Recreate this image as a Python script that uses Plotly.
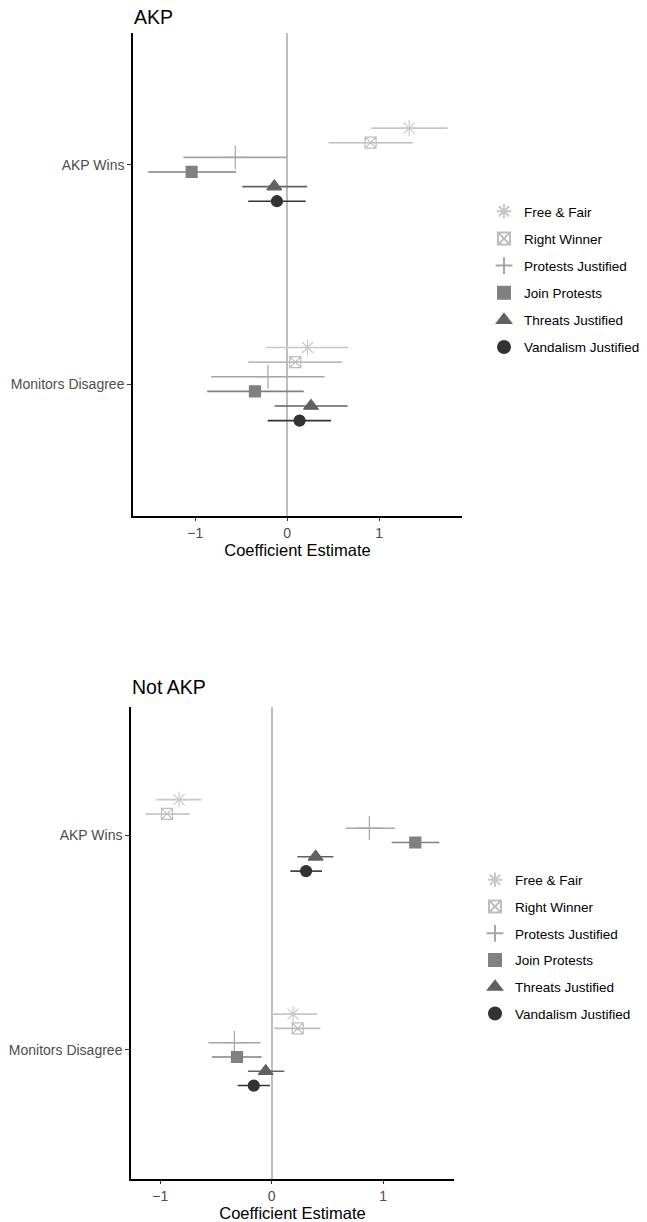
import plotly.graph_objects as go

series = ["Free & Fair", "Right Winner", "Protests Justified", "Join Protests",
          "Threats Justified", "Vandalism Justified"]
colors = ["#C8C8C8", "#BDBDBD", "#A6A6A6", "#808080", "#616161", "#333333"]
symbols = ["asterisk-open", "square-x-open", "cross-thin-open", "square",
           "triangle-up", "circle"]
sizes = [13, 11, 17, 11, 13, 11]

categories = ["Monitors Disagree", "AKP Wins"]

# AKP panel: [Monitors Disagree, AKP Wins]
akp_est = {
    "Free & Fair":         [0.221, 1.326],
    "Right Winner":        [0.087, 0.906],
    "Protests Justified":  [-0.210, -0.565],
    "Join Protests":       [-0.351, -1.040],
    "Threats Justified":   [0.258, -0.141],
    "Vandalism Justified": [0.134, -0.112],
}
akp_lo = {
    "Free & Fair":         [-0.232, 0.913],
    "Right Winner":        [-0.424, 0.450],
    "Protests Justified":  [-0.829, -1.130],
    "Join Protests":       [-0.870, -1.510],
    "Threats Justified":   [-0.137, -0.489],
    "Vandalism Justified": [-0.213, -0.424],
}
akp_hi = {
    "Free & Fair":         [0.667, 1.743],
    "Right Winner":        [0.598, 1.363],
    "Protests Justified":  [0.406, -0.003],
    "Join Protests":       [0.180, -0.557],
    "Threats Justified":   [0.656, 0.217],
    "Vandalism Justified": [0.475, 0.200],
}

# Not AKP panel
not_est = {
    "Free & Fair":         [0.191, -0.831],
    "Right Winner":        [0.233, -0.939],
    "Protests Justified":  [-0.335, 0.876],
    "Join Protests":       [-0.311, 1.288],
    "Threats Justified":   [-0.054, 0.394],
    "Vandalism Justified": [-0.161, 0.308],
}
not_lo = {
    "Free & Fair":         [0.000, -1.035],
    "Right Winner":        [0.024, -1.134],
    "Protests Justified":  [-0.568, 0.663],
    "Join Protests":       [-0.535, 1.076],
    "Threats Justified":   [-0.212, 0.230],
    "Vandalism Justified": [-0.305, 0.167],
}
not_hi = {
    "Free & Fair":         [0.406, -0.631],
    "Right Winner":        [0.436, -0.736],
    "Protests Justified":  [-0.099, 1.106],
    "Join Protests":       [-0.090, 1.503],
    "Threats Justified":   [0.113, 0.553],
    "Vandalism Justified": [-0.015, 0.451],
}

panels = [
    ("AKP", akp_est, akp_lo, akp_hi, "x", "y", "legend"),
    ("Not AKP", not_est, not_lo, not_hi, "x2", "y2", "legend2"),
]

dodge = 0.4 / 6
fig = go.Figure()

for p, (title, est, lo, hi, xa, ya, leg) in enumerate(panels):
    for i, s in enumerate(series):
        off = (2.5 - i) * dodge
        ys = [k + 1 + off for k in range(len(categories))]
        e = est[s]
        fig.add_trace(go.Scatter(
            x=e, y=ys, mode="markers", name=s, xaxis=xa, yaxis=ya, legend=leg,
            legendgroup=f"p{p}_{i}",
            marker=dict(symbol=symbols[i], size=sizes[i], color=colors[i],
                        line=dict(color=colors[i], width=1.2)),
            error_x=dict(type="data", symmetric=False,
                         array=[h - v for h, v in zip(hi[s], e)],
                         arrayminus=[v - l for v, l in zip(e, lo[s])],
                         color=colors[i], thickness=1.6, width=0),
            showlegend=True,
        ))

W, H = 647, 1222
tickfont = dict(family="Liberation Sans", size=14, color="#4D4D4D")
axis_common = dict(showgrid=False, zeroline=True, zerolinecolor="#BEBEBE",
                   zerolinewidth=1.6, showline=True, linecolor="black",
                   linewidth=1.5, ticks="outside", ticklen=4, tickcolor="#333333",
                   tickfont=tickfont)
xtitle = dict(text="Coefficient Estimate",
              font=dict(size=16.5, family="Liberation Sans", color="black"), standoff=1)
legfont = dict(size=13.5, family="Liberation Sans", color="black")

fig.update_layout(
    width=W, height=H, margin=dict(l=0, r=0, t=0, b=0),
    plot_bgcolor="white", paper_bgcolor="white",
    font=dict(family="Liberation Sans", color="black"),
    xaxis=dict(domain=[133 / W, 462 / W], range=[-1.677, 1.90], anchor="y",
               tickvals=[-1, 0, 1], ticktext=["\u22121", "0", "1"],
               title=xtitle, **axis_common),
    yaxis=dict(domain=[1 - 515.7 / H, 1 - 33 / H], range=[0.4, 2.6], anchor="x",
               tickvals=[1, 2], ticktext=categories, **axis_common),
    xaxis2=dict(domain=[131 / W, 454 / W], range=[-1.262, 1.635], anchor="y2",
                tickvals=[-1, 0, 1], ticktext=["\u22121", "0", "1"],
                title=xtitle, **axis_common),
    yaxis2=dict(domain=[1 - 1178.5 / H, 1 - 706.7 / H], range=[0.4, 2.6], anchor="x2",
                tickvals=[1, 2], ticktext=categories, **axis_common),
    legend=dict(x=484 / W, y=1 - 196 / H, xanchor="left", yanchor="top",
                font=legfont, tracegroupgap=6.6,
                itemsizing="constant", bgcolor="rgba(0,0,0,0)"),
    legend2=dict(x=475 / W, y=1 - 864.5 / H, xanchor="left", yanchor="top",
                 font=legfont, tracegroupgap=6.2,
                 itemsizing="constant", bgcolor="rgba(0,0,0,0)"),
    annotations=[
        dict(text="AKP", x=132 / W, y=1 - 17 / H, xref="paper", yref="paper",
             xanchor="left", yanchor="middle", showarrow=False,
             font=dict(size=19.5, family="Liberation Sans", color="black")),
        dict(text="Not AKP", x=130 / W, y=1 - 687 / H, xref="paper", yref="paper",
             xanchor="left", yanchor="middle", showarrow=False,
             font=dict(size=19.5, family="Liberation Sans", color="black")),
    ],
)

fig.write_html("out.html", config={"displayModeBar": False},
               post_script="document.body.style.margin='0px';")
